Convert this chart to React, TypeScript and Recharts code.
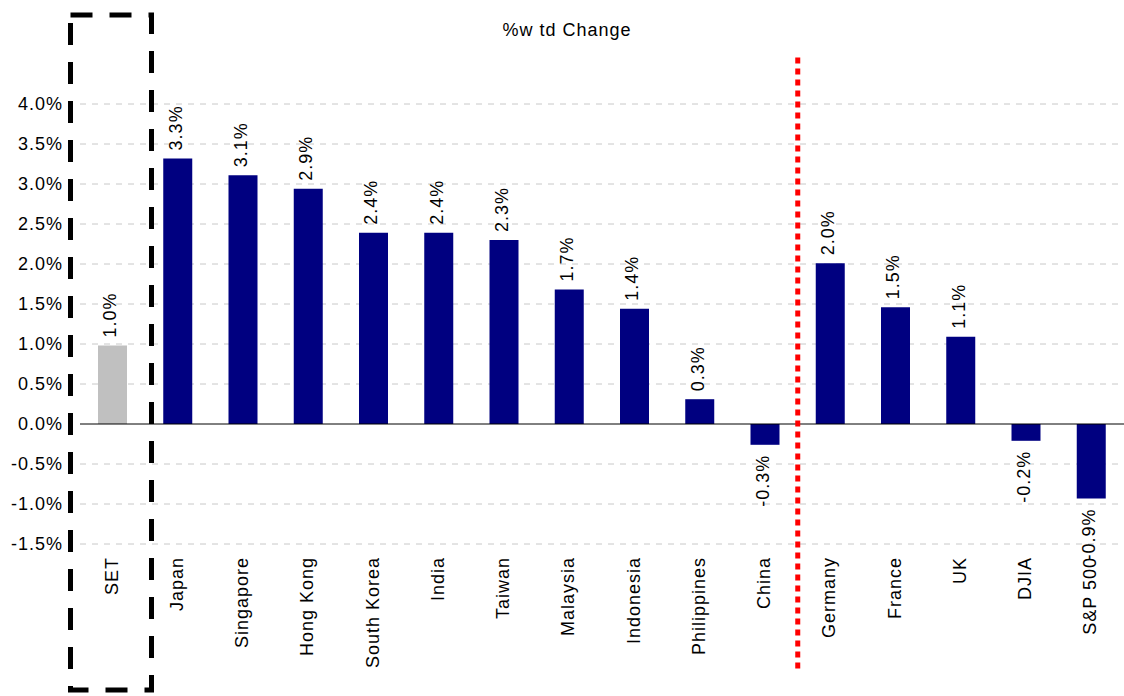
import React from 'react';
import { BarChart, Bar, XAxis, YAxis, CartesianGrid, ReferenceLine, Cell, LabelList, Customized } from 'recharts';

const markets = ['SET', 'Japan', 'Singapore', 'Hong Kong', 'South Korea', 'India', 'Taiwan', 'Malaysia', 'Indonesia', 'Philippines', 'China', 'Germany', 'France', 'UK', 'DJIA', 'S&P 500'];
const wtdChange = [0.98, 3.32, 3.11, 2.94, 2.39, 2.39, 2.3, 1.68, 1.44, 0.31, -0.26, 2.01, 1.46, 1.09, -0.21, -0.93];
const yTicks = [-1.5, -1.0, -0.5, 0, 0.5, 1.0, 1.5, 2.0, 2.5, 3.0, 3.5, 4.0];
const yDomain = [-1.5, 4.5];

const W = 1124;
const H = 696;
const TOP = 64;
const XAXIS_H = 152;
const PLOT_H = H - TOP - XAXIS_H;
const FONT = '"Liberation Sans", Arial, sans-serif';
const txt = { fontFamily: FONT, fontSize: 18, letterSpacing: 1, fill: '#000' };

const chartData = markets.map((m, i) => ({ market: m, change: wtdChange[i] }));

// dashed grid rows at the tick values only (zero gets a solid line below)
const gridRows = yTicks
  .filter((t) => t !== 0)
  .map((t) => TOP + ((yDomain[1] - t) / (yDomain[1] - yDomain[0])) * PLOT_H);

// skip the row at the very top of the plot, the reference has none there
const GridRow = (p: any) =>
  Math.abs(Number(p.y1) - TOP) < 1 ? (
    <g key={`row-${p.index}`} />
  ) : (
    <line key={`row-${p.index}`} x1={p.x1} y1={p.y1} x2={p.x2} y2={p.y2} stroke="#c8c8c8" strokeDasharray="6 6" fill="none" />
  );

const ValueLabel = (props: any) => {
  const { x, y, width, height, value } = props;
  const cx = Number(x) + Number(width) / 2 + 4;
  const top = Math.min(Number(y), Number(y) + Number(height));
  const bottom = Math.max(Number(y), Number(y) + Number(height));
  const pos = value >= 0;
  const ty = pos ? top - 8 : bottom + 10;
  return (
    <text x={cx} y={ty} transform={`rotate(-90, ${cx}, ${ty})`} textAnchor={pos ? 'start' : 'end'} style={txt}>
      {value.toFixed(1)}%
    </text>
  );
};

const MarketTick = ({ x, y, payload }: any) => {
  const tx = x + 5;
  return (
    <text x={tx} y={y} transform={`rotate(-90, ${tx}, ${y})`} textAnchor="end" style={txt}>
      {payload.value}
    </text>
  );
};

// title + dashed box around SET
const Decor = () => (
  <g>
    <text x={567} y={36} textAnchor="middle" style={txt}>%w td Change</text>
    <rect x={70.5} y={15} width={81} height={675} fill="none" stroke="#000" strokeWidth={5} strokeDasharray="22 17" />
  </g>
);

export default function App() {
  return (
    <div style={{ position: 'absolute', left: 0, top: 0, background: '#fff' }}>
      <BarChart width={W} height={H} data={chartData} margin={{ top: TOP, right: 0, bottom: 0, left: 0 }} barSize={29}>
        <CartesianGrid vertical={false} stroke="#c8c8c8" strokeDasharray="6 6" horizontalPoints={gridRows} horizontal={GridRow} />
        <XAxis dataKey="market" height={XAXIS_H} axisLine={false} tickLine={false} tickSize={0} tickMargin={13} interval={0} tick={<MarketTick />} />
        <YAxis width={80} domain={yDomain} ticks={yTicks} axisLine={false} tickLine={false} tickSize={0} tickMargin={17}
          tickFormatter={(v: number) => `${v.toFixed(1)}%`} tick={txt} />
        <ReferenceLine y={0} stroke="#000" strokeWidth={1} />
        <Bar dataKey="change" isAnimationActive={false}>
          {chartData.map((d) => (
            <Cell key={d.market} fill={d.market === 'SET' ? '#c0c0c0' : '#000080'} />
          ))}
          <LabelList dataKey="change" content={<ValueLabel />} />
        </Bar>
        <ReferenceLine segment={[{ x: 'China', y: 4.58 }, { x: 'China', y: -3.1 }]} position="end" ifOverflow="visible"
          stroke="#ff0000" strokeWidth={5} strokeDasharray="6 5" />
        <Customized component={Decor} />
      </BarChart>
    </div>
  );
}
